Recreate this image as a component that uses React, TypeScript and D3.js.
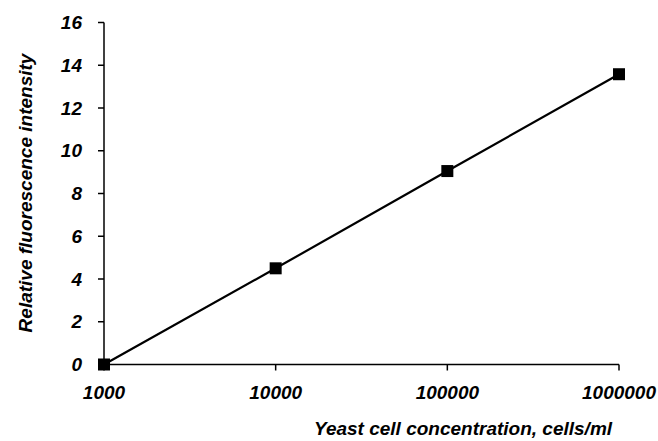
import React from 'react';
import * as d3 from 'd3';

const width = 658;
const height = 441;
const margin = { top: 22.5, right: 39, bottom: 76.5, left: 104 };

// cells/ml vs relative fluorescence
const concentrations = [1000, 10000, 100000, 1000000];
const intensities = [0, 4.5, 9.05, 13.58];
const xTicks = [1000, 10000, 100000, 1000000];
const yTicks = [0, 2, 4, 6, 8, 10, 12, 14, 16];

const font = '"Liberation Sans", Arial, sans-serif';

const App = () => {
  const innerWidth = width - margin.left - margin.right;
  const innerHeight = height - margin.top - margin.bottom;

  const x = d3.scaleLog().domain([1000, 1000000]).range([0, innerWidth]);
  const y = d3.scaleLinear().domain([0, 16]).range([innerHeight, 0]);

  const points = concentrations.map((c, i) => [c, intensities[i]] as [number, number]);
  const line = d3.line<[number, number]>()
    .x(d => x(d[0]))
    .y(d => y(d[1]));

  const sq = 12;

  return (
    <svg width={width} height={height} style={{ position: 'absolute', left: 0, top: 0, background: '#fff' }}>
      <g transform={`translate(${margin.left},${margin.top})`}>
        {/* y axis */}
        <line x1={0} x2={0} y1={0} y2={innerHeight} stroke="#000" strokeWidth={1.5} />
        {yTicks.map(t => (
          <g key={t} transform={`translate(0,${y(t)})`}>
            <line x1={-6} x2={0} stroke="#000" strokeWidth={1.5} />
            <text
              x={-22}
              dy="0.35em"
              textAnchor="end"
              fontFamily={font}
              fontSize={19}
              fontWeight="bold"
              fontStyle="italic"
            >
              {t}
            </text>
          </g>
        ))}
        {/* x axis */}
        <line x1={0} x2={innerWidth} y1={innerHeight} y2={innerHeight} stroke="#000" strokeWidth={1.5} />
        {xTicks.map(t => (
          <g key={t} transform={`translate(${x(t)},${innerHeight})`}>
            <line y1={0} y2={6} stroke="#000" strokeWidth={1.5} />
            <text
              y={28}
              dy="0.35em"
              textAnchor="middle"
              fontFamily={font}
              fontSize={19}
              fontWeight="bold"
              fontStyle="italic"
            >
              {t}
            </text>
          </g>
        ))}
        <path d={line(points) || ''} fill="none" stroke="#000" strokeWidth={2.2} />
        {points.map((d, i) => (
          <rect
            key={i}
            x={x(d[0]) - sq / 2}
            y={y(d[1]) - sq / 2}
            width={sq}
            height={sq}
            fill="#000"
          />
        ))}
      </g>
      <text
        transform={`translate(25,193) rotate(-90)`}
        textAnchor="middle"
        dy="0.35em"
        fontFamily={font}
        fontSize={19}
        fontStyle="italic"
        fontWeight="bold"
      >
        Relative fluorescence intensity
      </text>
      <text
        x={463}
        y={428}
        dy="0.35em"
        textAnchor="middle"
        fontFamily={font}
        fontSize={19}
        fontStyle="italic"
        fontWeight="bold"
      >
        Yeast cell concentration, cells/ml
      </text>
    </svg>
  );
};

export default App;
